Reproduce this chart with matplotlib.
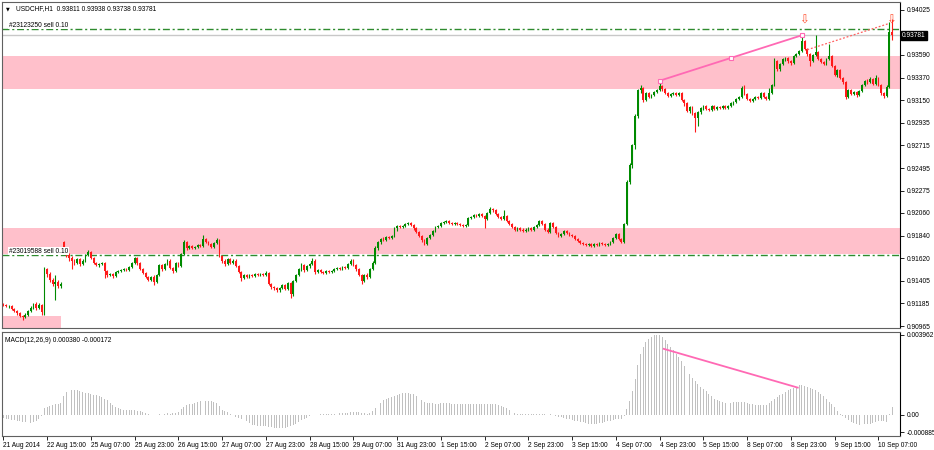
import numpy as np
import matplotlib.pyplot as plt
import matplotlib.transforms as mtransforms

plt.rcParams['font.family'] = ['Liberation Sans', 'DejaVu Sans']

# USDCHF H1 candles, prices in pips above 0.9000 (117 -> 0.9117)
first_open = 118
gap_opens = {22: 178}          # monday open gap
closes = [
    117, 116, 116, 113, 111, 109, 106, 105, 107, 111,
    114, 118, 114, 117, 110, 152, 147, 141, 137, 139,
    135, 137, 170, 165, 162, 160, 158, 161, 157, 160,
    165, 168, 162, 158, 156, 157, 158, 150, 146, 147,
    145, 149, 150, 151, 152, 151, 154, 158, 162, 158,
    152, 148, 144, 141, 144, 139, 146, 156, 152, 157,
    160, 153, 150, 158, 155, 166, 178, 172, 174, 172,
    173, 175, 174, 181, 178, 176, 173, 177, 180, 164,
    160, 157, 161, 158, 160, 155, 149, 143, 146, 144,
    146, 145, 147, 146, 147, 146, 148, 137, 134, 133,
    131, 133, 136, 132, 138, 128, 140, 146, 152, 156,
    151, 155, 157, 160, 149, 151, 149, 148, 150, 149,
    150, 152, 153, 152, 154, 153, 157, 160, 156, 152,
    146, 140, 146, 144, 152, 158, 172, 178, 181, 180,
    183, 182, 184, 191, 193, 192, 193, 195, 196, 194,
    191, 188, 184, 180, 176, 182, 185, 189, 192, 193,
    196, 197, 198, 196, 195, 196, 195, 194, 193, 194,
    201, 202, 204, 203, 205, 203, 200, 206, 210, 209,
    205, 202, 200, 203, 198, 195, 192, 190, 191, 190,
    189, 190, 191, 190, 192, 194, 198, 195, 190, 188,
    196, 192, 187, 184, 186, 189, 187, 185, 184, 181,
    179, 177, 176, 175, 176, 174, 176, 175, 177, 176,
    175, 176, 178, 182, 186, 181, 178, 195, 236, 252,
    272, 300, 325, 327, 315, 322, 318, 320, 323, 325,
    329, 326, 322, 319, 321, 322, 320, 322, 315, 312,
    305, 309, 303, 298, 304, 308, 310, 307, 306, 310,
    307, 309, 308, 310, 308, 310, 312, 313, 316, 318,
    327, 321, 316, 314, 316, 318, 317, 322, 318, 316,
    322, 330, 353, 345, 350, 355, 356, 353, 351, 358,
    360, 363, 372, 365, 360, 353, 359, 362, 355, 352,
    350, 355, 358, 348, 340, 344, 337, 333, 318, 325,
    321, 323, 320, 324, 330, 334, 333, 336, 331, 337,
    330, 322, 319, 328, 381.1, 378.1]
highs = [
    119, 118, 117, 117, 114, 112, 110, 107, 109, 112,
    116, 119, 120, 119, 118, 154, 153, 149, 143, 146,
    141, 139, 179, 171, 167, 164, 161, 162, 162, 161,
    166, 170, 169, 163, 159, 158, 159, 159, 151, 148,
    148, 150, 151, 152, 153, 153, 155, 159, 163, 163,
    159, 153, 149, 145, 145, 146, 147, 157, 157, 158,
    161, 161, 154, 159, 159, 167, 180, 179, 175, 175,
    174, 176, 176, 185, 182, 179, 177, 178, 182, 181,
    165, 161, 162, 162, 161, 161, 156, 150, 147, 147,
    147, 147, 148, 148, 148, 148, 150, 149, 138, 135,
    134, 134, 137, 137, 139, 139, 141, 147, 153, 158,
    157, 156, 158, 162, 161, 152, 152, 150, 151, 151,
    151, 153, 154, 154, 155, 155, 158, 161, 161, 157,
    153, 147, 147, 148, 153, 160, 174, 179, 182, 183,
    184, 184, 185, 192, 194, 194, 194, 196, 197, 197,
    195, 192, 189, 185, 181, 183, 186, 190, 193, 194,
    197, 198, 199, 199, 197, 197, 197, 196, 195, 195,
    202, 203, 205, 205, 206, 206, 204, 207, 212, 211,
    210, 206, 203, 209, 204, 199, 196, 193, 192, 192,
    191, 191, 192, 192, 193, 195, 199, 199, 196, 191,
    197, 197, 193, 188, 187, 190, 190, 188, 186, 185,
    182, 180, 178, 177, 177, 177, 177, 177, 178, 178,
    177, 177, 179, 183, 187, 187, 182, 196, 238, 254,
    273, 302, 326, 330, 328, 323, 323, 321, 324, 326,
    334, 330, 327, 323, 322, 323, 323, 323, 323, 316,
    313, 310, 310, 304, 305, 309, 311, 311, 308, 311,
    311, 310, 310, 311, 311, 311, 313, 314, 317, 319,
    329, 330, 322, 317, 317, 319, 319, 323, 323, 319,
    327, 331, 356, 354, 351, 356, 357, 357, 354, 359,
    361, 364, 378, 373, 366, 361, 360, 378, 363, 356,
    353, 356, 370, 359, 349, 345, 345, 338, 334, 326,
    326, 324, 324, 325, 331, 335, 336, 338, 337, 340,
    338, 331, 323, 330, 391, 393.8]
lows = [
    116, 115, 114, 112, 110, 107, 105, 102, 104, 106,
    110, 113, 112, 113, 107, 107, 144, 139, 135, 122,
    133, 133, 168, 163, 160, 152, 156, 157, 155, 156,
    159, 164, 161, 157, 155, 154, 156, 143, 144, 145,
    143, 144, 148, 149, 150, 150, 150, 153, 157, 156,
    151, 147, 143, 140, 140, 136, 138, 145, 150, 151,
    156, 152, 148, 149, 154, 154, 165, 170, 171, 171,
    171, 172, 173, 173, 177, 175, 172, 172, 176, 163,
    158, 155, 156, 157, 157, 154, 148, 140, 142, 143,
    143, 144, 144, 145, 145, 145, 145, 136, 132, 131,
    130, 130, 132, 131, 131, 124, 126, 139, 145, 150,
    149, 150, 153, 156, 147, 148, 148, 147, 147, 148,
    148, 149, 151, 151, 151, 152, 152, 156, 155, 150,
    145, 137, 139, 142, 143, 151, 157, 170, 176, 179,
    179, 181, 181, 183, 189, 191, 191, 192, 194, 193,
    190, 187, 183, 178, 175, 175, 181, 184, 188, 191,
    192, 195, 196, 195, 194, 194, 194, 193, 192, 192,
    193, 200, 201, 202, 202, 202, 191, 199, 205, 207,
    204, 201, 199, 199, 197, 194, 191, 189, 189, 189,
    188, 188, 189, 189, 189, 191, 193, 194, 189, 187,
    187, 191, 186, 183, 183, 185, 186, 184, 183, 180,
    178, 176, 175, 174, 174, 173, 173, 174, 174, 175,
    174, 174, 175, 177, 181, 180, 177, 177, 194, 234,
    250, 268, 298, 322, 313, 314, 317, 317, 319, 322,
    324, 324, 321, 318, 318, 320, 319, 319, 314, 310,
    304, 303, 301, 284, 290, 302, 306, 306, 305, 305,
    306, 306, 307, 307, 307, 307, 309, 311, 312, 315,
    317, 320, 315, 313, 313, 315, 316, 316, 317, 315,
    315, 321, 329, 343, 343, 349, 353, 351, 349, 350,
    357, 359, 362, 364, 358, 348, 352, 358, 354, 351,
    349, 349, 354, 347, 339, 338, 336, 331, 316, 317,
    320, 320, 318, 319, 323, 329, 331, 332, 330, 330,
    329, 320, 317, 318, 327, 373.8]

# MACD(12,26,9) main line, units of 0.0001
macd = [
    -1.6, -2.0, -2.3, -2.6, -2.9, -3.1, -3.4, -3.7, -3.9, -4.1,
    -4.0, -3.7, -3.0, -2.0, -0.6, 3.0, 3.8, 4.3, 4.6, 5.0,
    5.4, 5.8, 9.0, 11.0, 11.9, 12.4, 12.3, 12.1, 11.7, 11.2,
    10.9, 10.7, 10.4, 9.9, 9.5, 9.0, 8.5, 7.9, 7.1, 5.9,
    4.8, 3.9, 3.1, 2.6, 2.3, 2.1, 2.1, 2.2, 2.3, 2.0,
    1.6, 1.2, 0.7, 0.3, 0.0, -0.3, -0.2, 0.2, 0.1, 0.3,
    0.6, 0.5, 0.6, 1.0, 1.5, 2.6, 3.9, 4.5, 5.0, 5.4,
    5.7, 6.1, 6.5, 6.8, 6.9, 6.8, 6.5, 6.3, 5.9, 4.0,
    2.4, 1.6, 1.1, 0.5, -0.3, -1.0, -1.7, -2.4, -2.8, -3.4,
    -4.2, -5.0, -5.3, -5.5, -5.7, -5.8, -5.9, -6.0, -6.2, -6.5,
    -6.8, -6.9, -6.8, -6.5, -6.2, -5.8, -5.3, -4.6, -3.7, -2.8,
    -2.2, -1.5, -0.8, -0.4, -0.2, 0.0, 0.1, 0.2, 0.3, 0.3,
    0.4, 0.5, 0.6, 0.6, 0.7, 0.8, 1.0, 1.2, 1.3, 1.3,
    1.3, 0.9, 0.6, 0.5, 1.0, 1.8, 3.0, 4.5, 5.8, 7.1,
    7.8, 8.4, 8.9, 9.3, 9.6, 10.1, 10.5, 10.7, 10.6, 10.3,
    10.0, 9.3, 8.4, 7.1, 6.2, 5.8, 5.6, 5.5, 5.4, 5.4,
    5.5, 5.6, 5.6, 5.5, 5.4, 5.3, 5.2, 5.1, 5.0, 5.0,
    5.1, 5.1, 5.2, 5.2, 5.1, 5.1, 5.0, 5.1, 5.3, 5.4,
    5.1, 4.6, 4.2, 3.8, 3.0, 2.2, 1.4, 0.8, 0.5, 0.3,
    0.2, 0.2, 0.3, 0.4, 0.5, 0.5, 0.5, 0.4, 0.2, 0.0,
    0.1, -0.3, -0.7, -1.1, -1.4, -1.7, -2.0, -2.4, -2.8, -3.1,
    -3.4, -3.6, -3.9, -4.2, -4.5, -4.7, -4.8, -4.7, -4.4, -4.0,
    -3.6, -3.3, -3.0, -2.7, -2.3, -2.1, -2.0, -0.8, 2.6, 6.5,
    11.5, 17.5, 24.5, 30.0, 33.5, 36.0, 37.8, 38.8, 39.4, 39.6,
    39.5, 38.4, 37.0, 35.2, 33.5, 32.0, 30.2, 28.5, 26.5, 24.4,
    22.3, 20.3, 18.4, 16.6, 15.0, 13.9, 12.9, 11.6, 10.3, 9.0,
    7.9, 7.2, 6.6, 6.2, 5.9, 5.8, 5.9, 6.1, 6.2, 6.3,
    6.3, 6.1, 5.8, 5.4, 5.1, 4.9, 4.8, 4.7, 4.6, 4.9,
    5.6, 6.6, 7.9, 8.8, 9.6, 10.4, 11.2, 12.0, 12.6, 13.2,
    13.8, 14.5, 14.7, 14.3, 13.7, 13.2, 12.7, 12.1, 11.2, 10.2,
    9.0, 7.7, 6.3, 5.0, 3.6, 2.0, 0.5, -0.7, -1.8, -2.8,
    -3.6, -4.3, -4.9, -5.3, -5.1, -4.8, -4.6, -4.5, -4.2, -3.7,
    -3.3, -3.1, -3.4, -3.6, 0.5, 3.8]

time_labels = ['21 Aug 2014', '22 Aug 15:00', '25 Aug 07:00', '25 Aug 23:00',
               '26 Aug 15:00', '27 Aug 07:00', '27 Aug 23:00', '28 Aug 15:00',
               '29 Aug 07:00', '31 Aug 23:00', '1 Sep 15:00', '2 Sep 07:00',
               '2 Sep 23:00', '3 Sep 15:00', '4 Sep 07:00', '4 Sep 23:00',
               '5 Sep 15:00', '8 Sep 07:00', '8 Sep 23:00', '9 Sep 15:00',
               '10 Sep 07:00']
label_step = 16
# 0.93810 sits under the black bid label, so it is left out
price_ticks = [0.94025, 0.93590, 0.93370, 0.93150, 0.92935, 0.92715,
               0.92495, 0.92275, 0.92060, 0.91840, 0.91620, 0.91405, 0.91185,
               0.90965]
macd_ticks = [0.003962, 0.0, -0.000885]
macd_tick_labels = ['0.003962', '0.00', '-0.000885']

bid = 0.93781
zones = [(0.93260, 0.93580), (0.91665, 0.91915)]     # full width supply / demand boxes
corner_zone_end, corner_zone_top = 21.1, 0.91063
orders = [('#23123250 sell 0.10', 0.93841), ('#23019588 sell 0.10', 0.91655)]
trend_bars = [240, 292]                    # trendline through these highs
macd_trend_bars = [241.5, 290.5]
macd_trend_vals = [0.00327, 0.00134]
order_arrow_bars = [292.6, 324.6]
order_arrow_price = 0.93925
dotted_bars = [294, 324]
dotted_prices = [0.93640, 0.93895]

n = len(closes)
x = np.arange(n)
c = 0.9 + np.array(closes) / 1e4
h = 0.9 + np.array(highs) / 1e4
l = 0.9 + np.array(lows) / 1e4
op = np.r_[first_open, closes[:-1]].astype(float)
for k, v in gap_opens.items():
    op[k] = v
o = 0.9 + op / 1e4

fig = plt.figure(figsize=(9.34, 4.5), dpi=100)
ax1 = fig.add_axes([2 / 934, 1 - 328 / 450, 898 / 934, 326 / 450])
ax2 = fig.add_axes([2 / 934, 1 - 436 / 450, 898 / 934, 104 / 450])
xlim = (-0.51, 327.9)

# zones and lines
for lo_, hi_ in zones:
    ax1.axhspan(lo_, hi_, color='#ffc0cb', lw=0, zorder=0)
ax1.fill_between([xlim[0], corner_zone_end], 0.90, corner_zone_top, color='#ffc0cb', lw=0, zorder=0)
ax1.axhline(bid, color='#c8c8c8', lw=1.0, zorder=1)
for txt, p in orders:
    ax1.axhline(p, color='#2e8b2e', lw=1.0, dashes=(5, 2, 1.5, 2), zorder=2)
    ax1.text(2.0, p + 0.00003, txt, fontsize=4.8, va='bottom', ha='left', zorder=5,
             bbox=dict(facecolor='white', edgecolor='none', pad=0.3))

# candles
col = np.where(c >= o, '#008a00', '#ff1a1a')
ax1.vlines(x, l, h, colors=col, lw=0.8, zorder=3)
body = np.maximum(np.abs(c - o), 0.00002)
ax1.bar(x, body, bottom=np.minimum(o, c), width=0.65, color=col, lw=0, zorder=3)

# trendline on highs
tx = np.array(trend_bars, dtype=float)
ty = h[trend_bars]
ax1.plot(tx, ty, color='#ff69b4', lw=1.3, zorder=4)
ax1.plot([tx[0], tx.mean(), tx[1]], [ty[0], ty.mean(), ty[1]], ls='none', marker='s',
         ms=3, mfc='white', mec='#ff69b4', mew=0.8, zorder=5)
ax1.plot(dotted_bars, dotted_prices, color='#ff6060', lw=0.9, ls=(0, (1.5, 1.5)), zorder=4)
for b in order_arrow_bars:
    ax1.text(b, order_arrow_price, '\u21e9', color='#ff5030', fontsize=8.5, ha='center',
             va='center', family='DejaVu Sans', zorder=6)

ax1.set_xlim(*xlim)
ax1.set_ylim(0.90947, 0.94102)
ax1.set_xticks([])
ax1.yaxis.tick_right()
ax1.set_yticks(price_ticks)
ax1.set_yticklabels(['%.5f' % p for p in price_ticks])
ax1.tick_params(axis='y', length=3, width=0.6, pad=2, labelsize=4.8, colors='black')

tr = mtransforms.blended_transform_factory(ax1.transAxes, ax1.transData)
ax1.text(1.0025, bid, '%.5f' % bid, transform=tr, fontsize=4.8, color='white', va='center',
         ha='left', zorder=10, clip_on=False,
         bbox=dict(facecolor='black', edgecolor='black', pad=0.8))
ax1.text(0.004, 0.985, '\u25bc', transform=ax1.transAxes, fontsize=3.5, va='top',
         family='DejaVu Sans')
ax1.text(0.016, 0.99, 'USDCHF,H1  0.93811 0.93938 0.93738 0.93781', transform=ax1.transAxes,
         fontsize=4.8, va='top', ha='left')

# MACD panel
mv = np.array(macd) / 1e4
ax2.bar(x, mv, width=0.35, color='#c0c0c0', lw=0)
ax2.plot(macd_trend_bars, macd_trend_vals, color='#ff69b4', lw=1.3)
ax2.set_xlim(*xlim)
ax2.set_ylim(-0.00107, 0.00411)
ax2.yaxis.tick_right()
ax2.set_yticks(macd_ticks)
ax2.set_yticklabels(macd_tick_labels)
ax2.tick_params(axis='y', length=3, width=0.6, pad=2, labelsize=4.8)
ax2.set_xticks(np.arange(len(time_labels)) * label_step)
ax2.set_xticklabels(time_labels, ha='left')
ax2.tick_params(axis='x', length=3, width=0.6, pad=1.5, labelsize=4.8)
ax2.text(0.003, 0.95, 'MACD(12,26,9) 0.000380 -0.000172', transform=ax2.transAxes,
         fontsize=4.8, va='top', ha='left')

for ax in (ax1, ax2):
    for s in ax.spines.values():
        s.set_color('#606060')
        s.set_linewidth(0.8)
    ax.spines['right'].set_color('black')

fig.savefig('out.png', dpi=100)
